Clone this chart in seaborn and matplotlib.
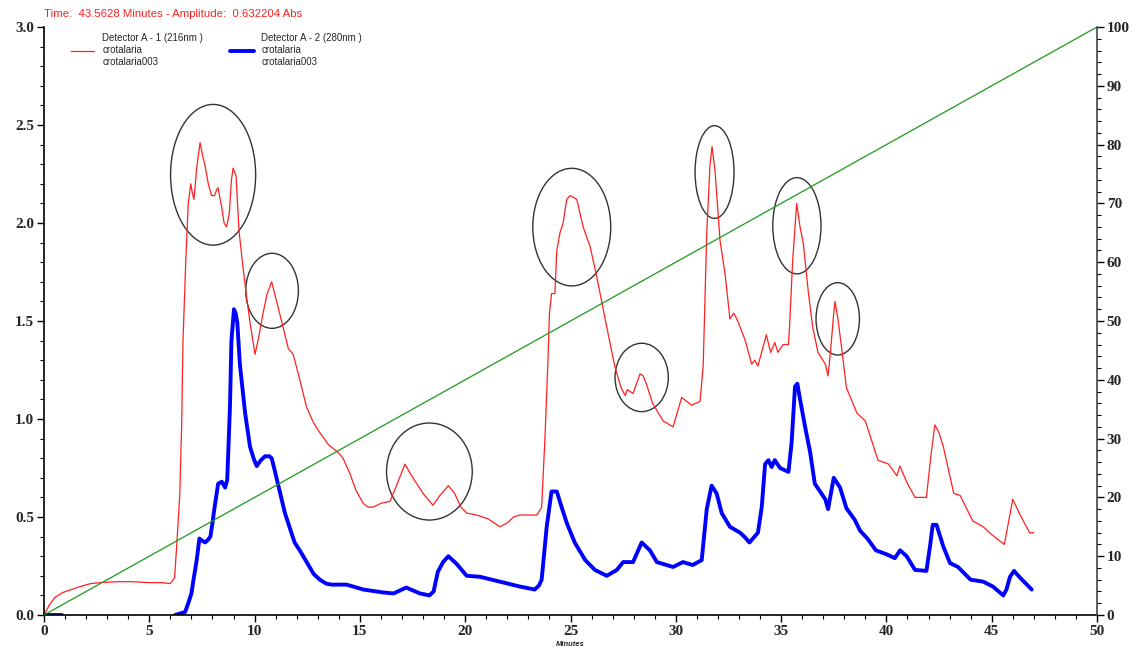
import matplotlib
matplotlib.use('Agg')
import matplotlib.pyplot as plt
from matplotlib.patches import Ellipse
from matplotlib.ticker import MultipleLocator, FormatStrFormatter
import seaborn as sns

# Detector A - 1 (216nm), red trace
red_time = [0, 0.25, 0.52, 0.9, 1.57, 2.2, 2.66, 3.5, 4.2, 5.0, 5.6, 6.0, 6.2, 6.3, 6.45, 6.54, 6.6,
            6.74, 6.85, 6.97, 7.05, 7.12, 7.25, 7.41, 7.52, 7.65, 7.8, 7.96, 8.1, 8.2, 8.27, 8.35,
            8.44, 8.55, 8.67, 8.8, 8.9, 8.98, 9.12, 9.26, 9.4, 9.62, 9.8, 10.02, 10.2, 10.4, 10.6,
            10.81, 11.0, 11.28, 11.6, 11.83, 12.1, 12.47, 12.8, 13.1, 13.5, 13.96, 14.2, 14.53, 14.8,
            15.15, 15.4, 15.62, 16.0, 16.43, 16.7, 17.14, 17.4, 17.7, 18.0, 18.47, 18.8, 19.2, 19.5,
            19.8, 20.07, 20.55, 21.1, 21.65, 22.0, 22.3, 22.6, 23.0, 23.4, 23.63, 23.79, 23.93, 24.0,
            24.1, 24.26, 24.35, 24.5, 24.65, 24.82, 24.98, 25.15, 25.3, 25.6, 25.93, 26.24, 26.72,
            27.1, 27.4, 27.6, 27.7, 27.97, 28.3, 28.45, 28.6, 28.9, 29.4, 29.87, 30.28, 30.75, 31.15,
            31.3, 31.47, 31.62, 31.72, 31.86, 32.1, 32.34, 32.57, 32.75, 32.9, 33.05, 33.3, 33.6,
            33.75, 33.9, 34.15, 34.3, 34.5, 34.7, 34.85, 35.1, 35.35, 35.4, 35.55, 35.66, 35.74, 35.9,
            36.05, 36.3, 36.5, 36.75, 37.1, 37.23, 37.35, 37.5, 37.56, 37.7, 37.9, 38.1, 38.6, 39.0,
            39.3, 39.6, 40.1, 40.5, 40.64, 41.0, 41.36, 41.9, 42.1, 42.3, 42.5, 42.7, 43.2, 43.5,
            44.1, 44.6, 45.0, 45.6, 46.0, 46.4, 46.8, 47.0]
red_abs = [0, 0.05, 0.09, 0.115, 0.14, 0.16, 0.165, 0.17, 0.17, 0.165, 0.165, 0.16, 0.19, 0.35, 0.62,
           0.99, 1.40, 1.83, 2.10, 2.20, 2.15, 2.12, 2.28, 2.41, 2.35, 2.29, 2.2, 2.14, 2.14, 2.17,
           2.18, 2.13, 2.08, 2.0, 1.98, 2.05, 2.22, 2.28, 2.24, 1.96, 1.82, 1.62, 1.48, 1.33, 1.42,
           1.54, 1.64, 1.70, 1.62, 1.50, 1.36, 1.33, 1.22, 1.06, 0.98, 0.93, 0.87, 0.83, 0.80, 0.72,
           0.64, 0.57, 0.55, 0.55, 0.57, 0.58, 0.65, 0.77, 0.72, 0.67, 0.62, 0.56, 0.61, 0.66, 0.62,
           0.55, 0.52, 0.51, 0.49, 0.45, 0.47, 0.5, 0.51, 0.51, 0.51, 0.55, 0.91, 1.30, 1.54, 1.64,
           1.64, 1.86, 1.95, 2.0, 2.12, 2.14, 2.13, 2.12, 1.98, 1.88, 1.73, 1.47, 1.27, 1.16, 1.12,
           1.15, 1.13, 1.23, 1.22, 1.18, 1.08, 0.99, 0.96, 1.11, 1.07, 1.09, 1.27, 1.95, 2.29, 2.39,
           2.27, 1.91, 1.74, 1.51, 1.54, 1.51, 1.47, 1.40, 1.28, 1.30, 1.27, 1.37, 1.43, 1.34, 1.39,
           1.34, 1.38, 1.38, 1.47, 1.81, 1.98, 2.10, 1.98, 1.90, 1.64, 1.47, 1.34, 1.28, 1.22, 1.35,
           1.54, 1.60, 1.51, 1.34, 1.16, 1.03, 0.99, 0.89, 0.79, 0.77, 0.71, 0.76, 0.67, 0.60, 0.60,
           0.80, 0.97, 0.93, 0.86, 0.62, 0.61, 0.48, 0.45, 0.41, 0.36, 0.59, 0.50, 0.42, 0.42]

# Detector A - 2 (280nm), blue trace
blue_start_time = [0, 0.85]
blue_start_abs = [0, 0]
blue_time = [6.22, 6.7, 6.85, 7.0, 7.1, 7.25, 7.38, 7.5, 7.65, 7.8, 7.9, 8.0, 8.1, 8.27, 8.44, 8.6,
             8.7, 8.83, 8.9, 9.02, 9.1, 9.18, 9.3, 9.55, 9.78, 9.95, 10.1, 10.3, 10.5, 10.7, 10.81,
             10.95, 11.13, 11.44, 11.9, 12.2, 12.47, 12.8, 13.1, 13.4, 13.66, 14.37, 15.16, 16.1,
             16.6, 17.2, 17.85, 18.3, 18.5, 18.7, 18.95, 19.2, 19.6, 20.07, 20.7, 21.65, 22.6, 23.3,
             23.5, 23.63, 23.87, 24.1, 24.35, 24.58, 24.82, 25.2, 25.7, 26.16, 26.72, 27.2, 27.5,
             27.97, 28.38, 28.77, 29.1, 29.87, 30.34, 30.8, 31.23, 31.47, 31.7, 31.94, 32.18, 32.57,
             33.05, 33.25, 33.5, 33.9, 34.08, 34.24, 34.4, 34.55, 34.7, 34.95, 35.35, 35.5, 35.66,
             35.77, 35.9, 36.14, 36.38, 36.6, 36.85, 37.1, 37.23, 37.5, 37.8, 38.1, 38.5, 38.75,
             39.1, 39.5, 40.0, 40.4, 40.65, 40.96, 41.36, 41.9, 42.07, 42.2, 42.38, 42.7, 43.02,
             43.4, 44.0, 44.6, 45.06, 45.55, 45.7, 45.87, 46.06, 46.35, 46.9]
blue_abs = [0.0, 0.015, 0.06, 0.11, 0.18, 0.28, 0.39, 0.38, 0.37, 0.385, 0.40, 0.47, 0.55, 0.67, 0.68,
            0.65, 0.69, 1.06, 1.40, 1.56, 1.54, 1.49, 1.28, 1.03, 0.86, 0.80, 0.76, 0.79, 0.81, 0.81,
            0.80, 0.74, 0.66, 0.52, 0.37, 0.32, 0.27, 0.21, 0.18, 0.16, 0.155, 0.155, 0.13, 0.115,
            0.11, 0.14, 0.11, 0.10, 0.12, 0.22, 0.27, 0.30, 0.26, 0.20, 0.195, 0.17, 0.145, 0.13,
            0.15, 0.18, 0.45, 0.63, 0.63, 0.55, 0.47, 0.37, 0.28, 0.23, 0.20, 0.23, 0.27, 0.27, 0.37,
            0.33, 0.27, 0.245, 0.27, 0.255, 0.28, 0.54, 0.66, 0.62, 0.52, 0.45, 0.42, 0.40, 0.37,
            0.42, 0.55, 0.77, 0.79, 0.755, 0.79, 0.75, 0.73, 0.88, 1.165, 1.18, 1.10, 0.96, 0.83,
            0.67, 0.63, 0.59, 0.54, 0.70, 0.65, 0.545, 0.485, 0.43, 0.39, 0.33, 0.31, 0.29, 0.33,
            0.30, 0.23, 0.225, 0.35, 0.46, 0.46, 0.35, 0.265, 0.245, 0.18, 0.17, 0.145, 0.10, 0.13,
            0.195, 0.225, 0.19, 0.13]

# gradient (% B), right axis
grad_time = [0, 50]
grad_pct = [0, 100]

# circled peaks: centre time, centre abs, width (min), height (abs)
circle_t = [8.03, 10.83, 18.3, 25.06, 28.38, 31.84, 35.75, 37.69]
circle_a = [2.246, 1.654, 0.732, 1.979, 1.212, 2.26, 1.986, 1.511]
circle_w = [4.04, 2.50, 4.07, 3.70, 2.53, 1.85, 2.29, 2.06]
circle_h = [0.718, 0.383, 0.495, 0.60, 0.349, 0.473, 0.491, 0.369]

sns.set_style('ticks')
plt.rcParams['font.family'] = ['Liberation Sans', 'DejaVu Sans']

fig = plt.figure(figsize=(11.4, 6.58), dpi=100)
ax = fig.add_axes([44 / 1140, 43 / 658, 1053 / 1140, 588 / 658])

sns.lineplot(x=red_time, y=red_abs, ax=ax, color='#ff2020', linewidth=0.9,
             label='Detector A - 1 (216nm )\ncrotalaria\ncrotalaria003')
sns.lineplot(x=blue_time, y=blue_abs, ax=ax, color='#0000ff', linewidth=2.8,
             solid_capstyle='round', solid_joinstyle='round',
             label='Detector A - 2 (280nm )\ncrotalaria\ncrotalaria003')
ax.plot(blue_start_time, blue_start_abs, color='#0000ff', linewidth=2.8)

for t, a, w, h in zip(circle_t, circle_a, circle_w, circle_h):
    ax.add_patch(Ellipse((t, a), w, h, fill=False, edgecolor='#333333', linewidth=1.0))

ax.set_xlim(0, 50)
ax.set_ylim(0, 3.0)
ax.xaxis.set_major_locator(MultipleLocator(5))
ax.xaxis.set_minor_locator(MultipleLocator(1))
ax.yaxis.set_major_locator(MultipleLocator(0.5))
ax.yaxis.set_minor_locator(MultipleLocator(0.1))
ax.yaxis.set_major_formatter(FormatStrFormatter('%.1f'))
ax.tick_params(which='major', direction='out', length=5, width=1, color='black', pad=2)
ax.tick_params(which='minor', direction='out', length=3, width=0.8, color='black')
for lab in ax.get_xticklabels() + ax.get_yticklabels():
    lab.set_fontfamily('Liberation Serif')
    lab.set_fontweight('bold')
    lab.set_fontsize(11)
ax.set_xlabel('Minutes', fontsize=5.5, style='italic', fontweight='bold', labelpad=2)
ax.set_ylabel('')
for side in ['top', 'right']:
    ax.spines[side].set_visible(False)
for side in ['left', 'bottom']:
    ax.spines[side].set_color('black')
    ax.spines[side].set_linewidth(1.2)

leg = ax.legend(loc='upper left', bbox_to_anchor=(0.022, 0.997), ncol=2, frameon=False,
                fontsize=7, handlelength=2.4, handletextpad=0.8, columnspacing=2.8,
                borderaxespad=0)
for txt in leg.get_texts():
    txt.set_linespacing(1.3)

ax2 = ax.twinx()
sns.lineplot(x=grad_time, y=grad_pct, ax=ax2, color='#1a9a1a', linewidth=0.9)
ax2.set_ylim(0, 100)
ax2.yaxis.set_major_locator(MultipleLocator(10))
ax2.yaxis.set_minor_locator(MultipleLocator(2))
ax2.tick_params(which='major', direction='out', length=5, width=1, color='black', pad=2)
ax2.tick_params(which='minor', direction='out', length=3, width=0.8, color='black')
for lab in ax2.get_yticklabels():
    lab.set_fontfamily('Liberation Serif')
    lab.set_fontweight('bold')
    lab.set_fontsize(11)
ax2.set_ylabel('')
for side in ['top', 'left', 'bottom']:
    ax2.spines[side].set_visible(False)
ax2.spines['right'].set_visible(True)
ax2.spines['right'].set_color('#444444')
ax2.spines['right'].set_linewidth(1.2)

fig.text(44 / 1140, 1 - 14 / 658, 'Time:  43.5628 Minutes - Amplitude:  0.632204 Abs',
         color='#ff2020', fontsize=8.2, va='center', ha='left')

fig.savefig('out.png', dpi=100)
